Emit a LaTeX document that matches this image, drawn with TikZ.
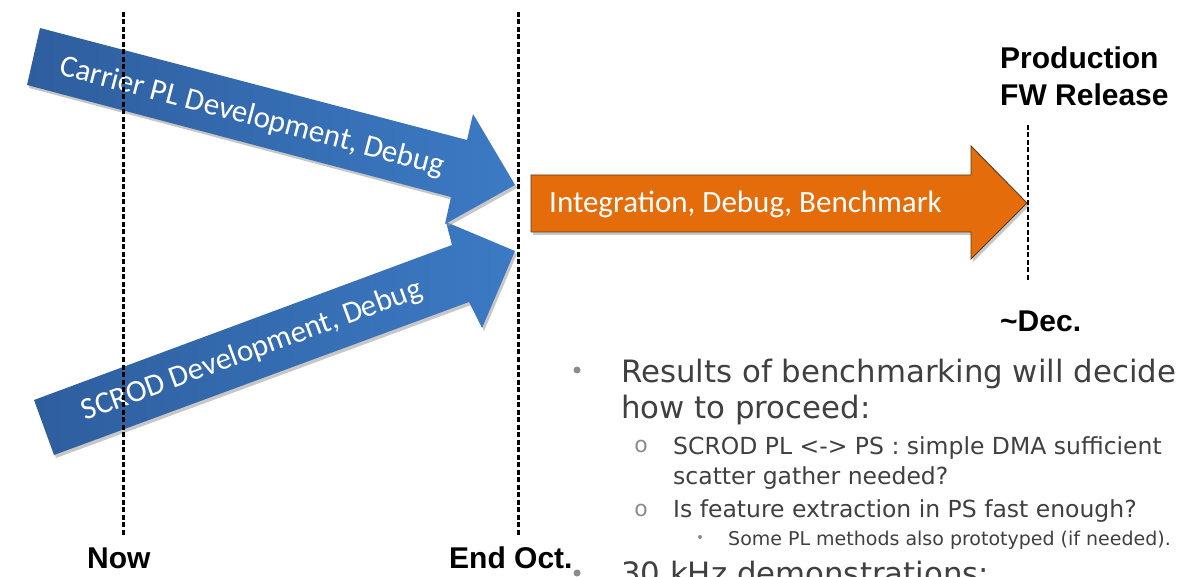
\documentclass[tikz,border=0pt]{standalone}
\usepackage{fontspec}
\setmainfont{Liberation Sans}
\newfontfamily\calfont{Carlito}
\newfontfamily\dvfont{DejaVu Sans}
\definecolor{bluedark}{HTML}{2E5E9E}
\definecolor{bluelight}{HTML}{3C7AC4}
\definecolor{orangefill}{HTML}{E46C0A}
\definecolor{orangeedge}{HTML}{5A3A1E}
\definecolor{bullettext}{HTML}{404040}
\definecolor{bulletmark}{HTML}{8C8C8C}
\begin{document}
\begin{tikzpicture}[x=1pt,y=-1pt,
  timeline/.style={line width=3pt, dash pattern=on 5pt off 2.5pt, black},
  decline/.style={line width=2.3pt, dash pattern=on 5pt off 2.5pt, black},
  arrowshadow/.style={fill=black!40, opacity=0.55},
  bluearrow/.style={left color=bluedark, right color=bluelight, draw=none},
  orangearrow/.style={fill=orangefill, draw=orangeedge, line width=0.9pt, line join=miter},
  arrowtext/.style={text=white, font=\calfont\fontsize{31}{36}\selectfont, inner sep=0pt},
  milestone/.style={font=\bfseries\fontsize{30}{36}\selectfont, inner sep=0pt, text=black},
  mainitem/.style={anchor=base west, inner sep=0pt, text=bullettext, font=\dvfont\fontsize{30.8}{36}\selectfont},
  subitem/.style={anchor=base west, inner sep=0pt, text=bullettext, font=\dvfont\fontsize{23.5}{28}\selectfont},
  subsubitem/.style={anchor=base west, inner sep=0pt, text=bullettext, font=\dvfont\fontsize{19}{23}\selectfont},
  subbullet/.style={inner sep=0pt, text=bulletmark, font=\dvfont\fontsize{22}{26}\selectfont}
]
\useasboundingbox (0,0) rectangle (1178,577);
\clip (0,0) rectangle (1178,577);
\fill[white] (0,0) rectangle (1178,577);

% ---- SCROD arrow (behind) ----
\fill[arrowshadow, shift={(2,3)}]
  (34,400) -- (452,245) -- (446,222) -- (515,251) -- (482,328) -- (469,302) -- (54,455) -- cycle;
\shade[bluearrow]
  (34,400) -- (452,245) -- (446,222) -- (515,251) -- (482,328) -- (469,302) -- (54,455) -- cycle;
\node[arrowtext, rotate=20.2] (scrodtext) at (252,351) {SCROD Development, Debug};

% ---- Carrier arrow (front) ----
\fill[arrowshadow, shift={(2,3)}]
  (40,28) -- (467,140) -- (473,114) -- (515,185) -- (445,224) -- (451,197) -- (27,85) -- cycle;
\shade[bluearrow]
  (40,28) -- (467,140) -- (473,114) -- (515,185) -- (445,224) -- (451,197) -- (27,85) -- cycle;
\node[arrowtext, rotate=-14.7] (carriertext) at (252,117) {Carrier PL Development, Debug};

% ---- Integration arrow ----
\fill[arrowshadow, shift={(2,3)}]
  (531,175) -- (971,175) -- (971,146) -- (1027,203) -- (971,259) -- (971,232) -- (531,232) -- cycle;
\draw[orangearrow]
  (531,175) -- (971,175) -- (971,146) -- (1027,203) -- (971,259) -- (971,232) -- (531,232) -- cycle;
\node[arrowtext, anchor=base west] (integtext) at (549,213) {Integration, Debug, Benchmark};

% ---- milestone lines ----
\coordinate (nowtop) at (123,12);
\coordinate (nowbot) at (123,535);
\coordinate (octtop) at (518,12);
\coordinate (octbot) at (518,535);
\coordinate (dectop) at (1028,125);
\coordinate (decbot) at (1028,282);
\draw[timeline] (nowtop) -- (nowbot);
\draw[timeline] (octtop) -- (octbot);
\draw[decline] (dectop) -- (decbot);

% ---- milestone labels ----
\node[milestone, anchor=base west] (now) at (87,568) {Now};
\node[milestone, anchor=base west] (endoct) at (449,568) {End Oct.};
\node[milestone, anchor=base west] (prod1) at (1000,69) {Production};
\node[milestone, anchor=base west] (prod2) at (1000,106) {FW Release};
\node[milestone, anchor=base west] (dec) at (1000,331) {\textasciitilde Dec.};

% ---- bullet text ----
\fill[bulletmark] (577,370) circle (3.5);
\node[mainitem] (res1) at (621,382) {Results of benchmarking will decide};
\node[mainitem] (res2) at (621,418) {how to proceed:};
\node[subbullet] (ob1) at (641,446) {o};
\node[subitem] (sub1a) at (673,454) {SCROD PL <-> PS : simple DMA sufficient};
\node[subitem] (sub1b) at (673,484) {scatter gather needed?};
\node[subbullet] (ob2) at (641,510) {o};
\node[subitem] (sub2) at (673,517) {Is feature extraction in PS fast enough?};
\fill[bulletmark] (700,537) circle (2);
\node[subsubitem] (subsub) at (728,545) {Some PL methods also prototyped (if needed).};
\fill[bulletmark] (577,573) circle (3.5);
\node[mainitem] (demo) at (621,584) {30 kHz demonstrations:};
\end{tikzpicture}
\end{document}
